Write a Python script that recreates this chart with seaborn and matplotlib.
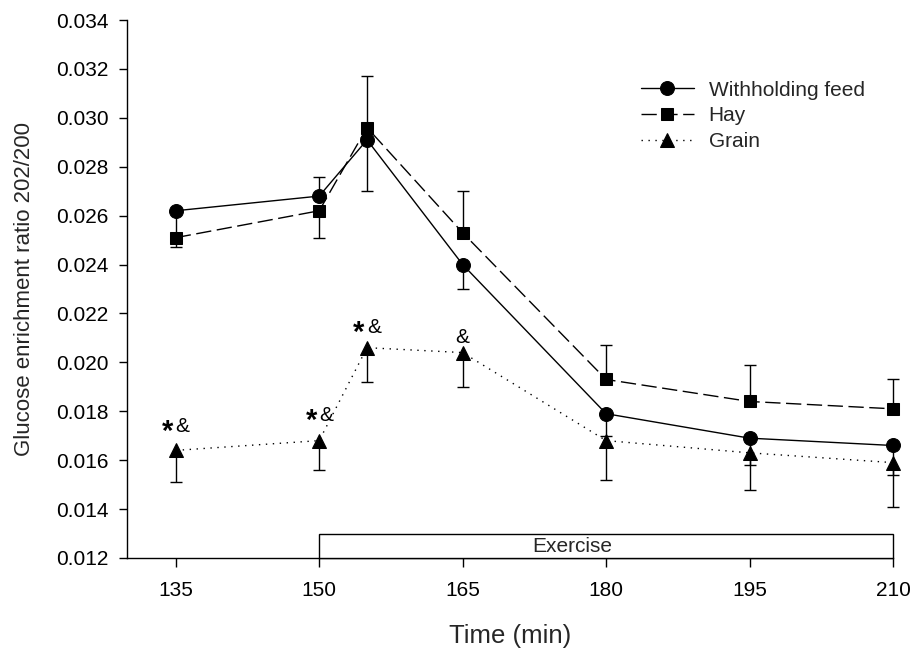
import matplotlib
matplotlib.use("Agg")
import matplotlib.pyplot as plt
from matplotlib.patches import Rectangle
import seaborn as sns
import pandas as pd

# Sampling times (min)
times = [135, 150, 155, 165, 180, 195, 210]

# Mean glucose enrichment ratio 202/200 per treatment
withholding = [0.0262, 0.0268, 0.0291, 0.0240, 0.0179, 0.0169, 0.0166]
hay = [0.0251, 0.0262, 0.0296, 0.0253, 0.0193, 0.0184, 0.0181]
grain = [0.0164, 0.0168, 0.0206, 0.0204, 0.0168, 0.0163, 0.0159]

# One-sided error bars (SE) as drawn: downward and upward lengths
withholding_err_down = [0.0011, 0.0, 0.0021, 0.0010, 0.0009, 0.0011, 0.0012]
withholding_err_up = [0.0, 0.0008, 0.0, 0.0, 0.0, 0.0, 0.0]
hay_err_down = [0.0004, 0.0011, 0.0, 0.0, 0.0, 0.0, 0.0]
hay_err_up = [0.0, 0.0, 0.0021, 0.0017, 0.0014, 0.0015, 0.0012]
grain_err_down = [0.0013, 0.0012, 0.0014, 0.0014, 0.0016, 0.0015, 0.0018]
grain_err_up = [0.0, 0.0, 0.0, 0.0, 0.0, 0.0, 0.0]

# Significance markers above the grain series
sig_times = [135, 150, 155, 165]
sig_labels = ["*&", "*&", "*&", "&"]
sig_y = [0.01745, 0.0179, 0.0215, 0.0211]

xtick_values = [135, 150, 165, 180, 195, 210]
ytick_values = [0.012, 0.014, 0.016, 0.018, 0.020, 0.022, 0.024,
                0.026, 0.028, 0.030, 0.032, 0.034]

sns.set_style("ticks")
plt.rcParams["font.family"] = ["Liberation Sans", "DejaVu Sans"]

fig = plt.figure(figsize=(9.17, 6.52), dpi=100)
ax = fig.add_axes([0.1385, 0.1442, 0.8353, 0.8251])

series = [
    ("Withholding feed", withholding, withholding_err_down, withholding_err_up,
     "o", "-", 10),
    ("Hay", hay, hay_err_down, hay_err_up, "s", (0, (11, 4)), 8.5),
    ("Grain", grain, grain_err_down, grain_err_up, "^", (0, (1, 4)), 9.5),
]


def draw_bars(xs, ys, errs, sign):
    """Draw one-sided error bars (sign -1 = down, +1 = up) with flat caps."""
    bx, by0, by1 = [], [], []
    for x, y, e in zip(xs, ys, errs):
        if e > 0:
            bx.append(x)
            by0.append(y)
            by1.append(y + sign * e)
    if not bx:
        return
    vl = ax.vlines(bx, by0, by1, colors="black", linewidth=1, zorder=2)
    vl.set_clip_on(False)
    ax.plot(bx, by1, linestyle="none", marker="_", markersize=8,
            markeredgewidth=1, color="black", zorder=2, clip_on=False)


for name, vals, edown, eup, mk, ls, ms in series:
    draw_bars(times, vals, edown, -1)
    draw_bars(times, vals, eup, +1)
    df = pd.DataFrame({"time": times, "value": vals})
    sns.lineplot(data=df, x="time", y="value", ax=ax, color="black",
                 marker=mk, markersize=ms, markeredgecolor="black",
                 markerfacecolor="black", linestyle=ls, linewidth=1,
                 label=name, sort=False, zorder=3, clip_on=False)

# Significance symbols: a large asterisk and an ampersand, centred together
for t, lab, y in zip(sig_times, sig_labels, sig_y):
    if lab.startswith("*"):
        ax.annotate("*", xy=(t, y), xytext=(-5.8, -11.0),
                    textcoords="offset points", ha="center", va="baseline",
                    fontsize=21, fontweight="bold", color="black")
        ax.annotate("&", xy=(t, y), xytext=(5.0, -5.4),
                    textcoords="offset points", ha="center", va="baseline",
                    fontsize=15, color="black")
    else:
        ax.annotate("&", xy=(t, y), xytext=(0, -5.4),
                    textcoords="offset points", ha="center", va="baseline",
                    fontsize=15, color="black")

# Exercise period bar along the x axis
ax.add_patch(Rectangle((150, 0.012), 60, 0.00098, facecolor="white",
                       edgecolor="black", linewidth=1, clip_on=False,
                       zorder=4))
ax.text(176.5, 0.01247, "Exercise", ha="center", va="center", fontsize=15,
        zorder=5)

ax.set_xlim(129.9, 210)
ax.set_ylim(0.012, 0.034)
ax.set_xticks(xtick_values)
ax.set_xticklabels([str(v) for v in xtick_values])
ax.set_yticks(ytick_values)
ax.set_yticklabels([f"{v:.3f}" for v in ytick_values])
ax.tick_params(axis="both", labelsize=15, direction="out", width=1,
               color="black", labelcolor="black")
ax.tick_params(axis="x", length=6.5, pad=10)
ax.tick_params(axis="y", length=6, pad=7.5)

ax.set_xlabel("Time (min)", fontsize=18.5, labelpad=17.5)
ax.set_ylabel("Glucose enrichment ratio 202/200", fontsize=16, labelpad=15)

sns.despine(ax=ax)
for sp in ("left", "bottom"):
    ax.spines[sp].set_color("black")
    ax.spines[sp].set_linewidth(1)

leg = ax.legend(loc="upper left", bbox_to_anchor=(0.66, 0.903),
                frameon=False, fontsize=15, handlelength=2.55,
                handletextpad=0.7, labelspacing=0.33, numpoints=1,
                borderaxespad=0)

fig.savefig("out.png", dpi=100, facecolor="white")
